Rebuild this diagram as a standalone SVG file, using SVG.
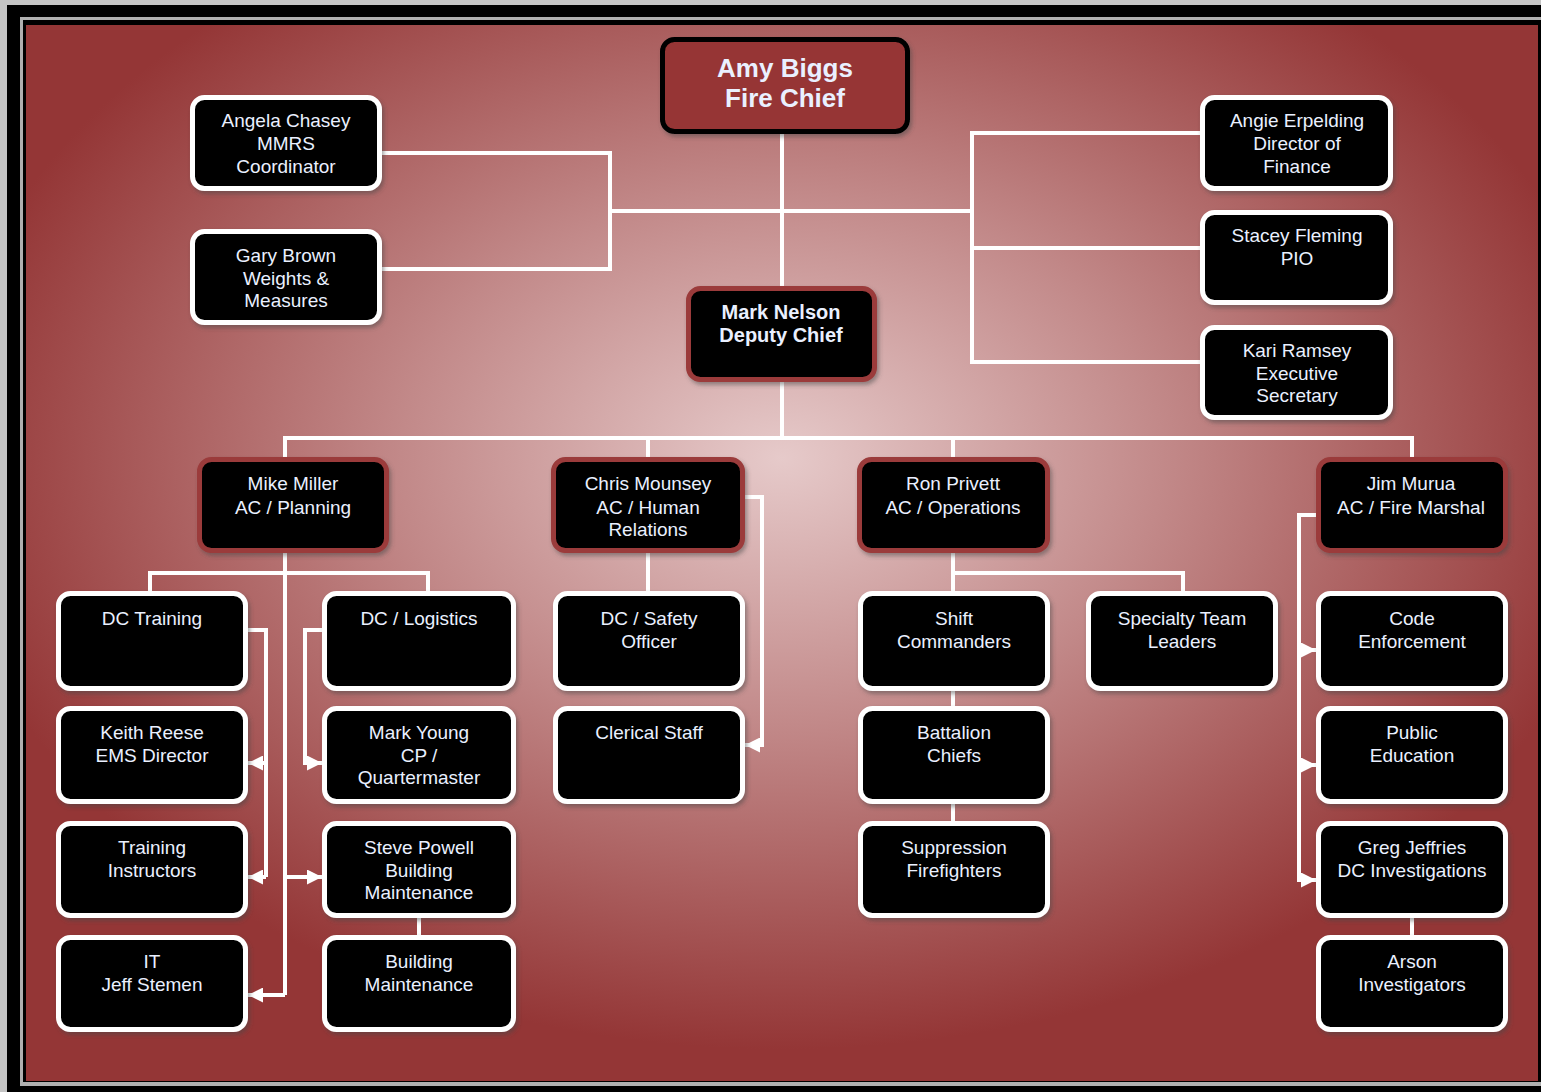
<svg xmlns="http://www.w3.org/2000/svg" width="1541" height="1092" viewBox="0 0 1541 1092">
<defs>
  <radialGradient id="bg" cx="0.5" cy="0.41" r="0.56">
    <stop offset="0" stop-color="#e6caca"/>
    <stop offset="0.45" stop-color="#c28989"/>
    <stop offset="1" stop-color="#943636"/>
  </radialGradient>
  <filter id="sh" x="-10%" y="-10%" width="125%" height="130%">
    <feDropShadow dx="2" dy="3" stdDeviation="2" flood-color="#444" flood-opacity="0.5"/>
  </filter>
  <marker id="arr" viewBox="0 0 10 10" refX="10" refY="5" markerWidth="15" markerHeight="15" markerUnits="userSpaceOnUse" orient="auto">
    <path d="M0,0 L10,5 L0,10 z" fill="#fff"/>
  </marker>
  <style>
    .box{fill:#000;stroke:#fff;stroke-width:5;filter:url(#sh)}
    .rbox{fill:#000;stroke:#9b3a3a;stroke-width:5;filter:url(#sh)}
    .chief{fill:#963434;stroke:#000;stroke-width:5;filter:url(#sh)}
    text{font-family:"Liberation Sans",Arial,sans-serif;font-size:19px;fill:#eaf0ff;text-anchor:middle}
    .b{font-weight:bold}
    .c{fill:none;stroke:#fff;stroke-width:4}
  </style>
</defs>
<rect x="0" y="0" width="1541" height="1092" fill="#c4c4c4"/>
<rect x="7" y="5" width="1534" height="1087" fill="#000"/>
<rect x="20" y="17" width="1521" height="1069" fill="#b0b0b0"/>
<rect x="23" y="20" width="1518" height="1062" fill="#000"/>
<rect x="26" y="25" width="1512" height="1056" fill="url(#bg)"/>

<g id="connectors">
  <path class="c" d="M782,134 V286"/>
  <path class="c" d="M610,211 H972"/>
  <path class="c" d="M382,153 H610 V269 H382"/>
  <path class="c" d="M1200,133 H972 V362 H1200 M972,248 H1200"/>
  <path class="c" d="M782,382 V438"/>
  <path class="c" d="M285,457 V438 H1412 V457 M648,438 V457 M953,438 V457"/>
  <path class="c" d="M285,553 V995"/>
  <path class="c" d="M150,591 V573 H428 V591"/>
  <path class="c" d="M248,630 H266 V877" />
  <path class="c" d="M266,877 H248" marker-end="url(#arr)"/>
  <path class="c" d="M266,763 H248" marker-end="url(#arr)"/>
  <path class="c" d="M322,630 H305 V763 H322" marker-end="url(#arr)"/>
  <path class="c" d="M285,877 H322" marker-end="url(#arr)"/>
  <path class="c" d="M285,995 H248" marker-end="url(#arr)"/>
  <path class="c" d="M419,918 V935"/>
  <path class="c" d="M648,553 V591"/>
  <path class="c" d="M745,497 H762 V745 H745" marker-end="url(#arr)"/>
  <path class="c" d="M953,553 V591 M953,573 H1183 V591"/>
  <path class="c" d="M953,691 V706 M953,804 V821"/>
  <path class="c" d="M1316,515 H1299 V880 H1316" marker-end="url(#arr)"/>
  <path class="c" d="M1299,650 H1316" marker-end="url(#arr)"/>
  <path class="c" d="M1299,765 H1316" marker-end="url(#arr)"/>
  <path class="c" d="M1412,918 V935"/>
</g>

<g id="amy-biggs"><rect class="chief" x="662.5" y="39.5" width="245" height="92" rx="12"/>
  <text class="b" x="785" y="77" style="font-size:26px">Amy Biggs</text><text class="b" x="785" y="107" style="font-size:26px">Fire Chief</text></g>
<g id="angela-chasey"><rect class="box" x="192.5" y="97.5" width="187" height="91" rx="12"/>
  <text x="286" y="127">Angela Chasey</text><text x="286" y="150">MMRS</text><text x="286" y="173">Coordinator</text></g>
<g id="gary-brown"><rect class="box" x="192.5" y="231.5" width="187" height="91" rx="12"/>
  <text x="286" y="262">Gary Brown</text><text x="286" y="285">Weights &amp;</text><text x="286" y="307">Measures</text></g>
<g id="angie-erpelding"><rect class="box" x="1202.5" y="97.5" width="188" height="91" rx="12"/>
  <text x="1297" y="127">Angie Erpelding</text><text x="1297" y="150">Director of</text><text x="1297" y="173">Finance</text></g>
<g id="stacey-fleming"><rect class="box" x="1202.5" y="212.5" width="188" height="90" rx="12"/>
  <text x="1297" y="242">Stacey Fleming</text><text x="1297" y="265">PIO</text></g>
<g id="kari-ramsey"><rect class="box" x="1202.5" y="327.5" width="188" height="90" rx="12"/>
  <text x="1297" y="357">Kari Ramsey</text><text x="1297" y="380">Executive</text><text x="1297" y="402">Secretary</text></g>
<g id="mark-nelson"><rect class="rbox" x="688.5" y="288.5" width="186" height="91" rx="12"/>
  <text class="b" x="781" y="319" style="font-size:20px">Mark Nelson</text><text class="b" x="781" y="342" style="font-size:20px">Deputy Chief</text></g>

<g id="mike-miller"><rect class="rbox" x="199.5" y="459.5" width="187" height="91" rx="12"/>
  <text x="293" y="490">Mike Miller</text><text x="293" y="514">AC / Planning</text></g>
<g id="chris-mounsey"><rect class="rbox" x="553.5" y="459.5" width="189" height="91" rx="12"/>
  <text x="648" y="490">Chris Mounsey</text><text x="648" y="514">AC / Human</text><text x="648" y="536">Relations</text></g>
<g id="ron-privett"><rect class="rbox" x="859.5" y="459.5" width="188" height="91" rx="12"/>
  <text x="953" y="490">Ron Privett</text><text x="953" y="514">AC / Operations</text></g>
<g id="jim-murua"><rect class="rbox" x="1318.5" y="459.5" width="187" height="91" rx="12"/>
  <text x="1411" y="490">Jim Murua</text><text x="1411" y="514">AC / Fire Marshal</text></g>

<g id="dc-training"><rect class="box" x="58.5" y="593.5" width="187" height="95" rx="12"/>
  <text x="152" y="625">DC Training</text></g>
<g id="keith-reese"><rect class="box" x="58.5" y="708.5" width="187" height="93" rx="12"/>
  <text x="152" y="739">Keith Reese</text><text x="152" y="762">EMS Director</text></g>
<g id="training-instructors"><rect class="box" x="58.5" y="823.5" width="187" height="92" rx="12"/>
  <text x="152" y="854">Training</text><text x="152" y="877">Instructors</text></g>
<g id="it-jeff-stemen"><rect class="box" x="58.5" y="937.5" width="187" height="92" rx="12"/>
  <text x="152" y="968">IT</text><text x="152" y="991">Jeff Stemen</text></g>

<g id="dc-logistics"><rect class="box" x="324.5" y="593.5" width="189" height="95" rx="12"/>
  <text x="419" y="625">DC / Logistics</text></g>
<g id="mark-young"><rect class="box" x="324.5" y="708.5" width="189" height="93" rx="12"/>
  <text x="419" y="739">Mark Young</text><text x="419" y="762">CP /</text><text x="419" y="784">Quartermaster</text></g>
<g id="steve-powell"><rect class="box" x="324.5" y="823.5" width="189" height="92" rx="12"/>
  <text x="419" y="854">Steve Powell</text><text x="419" y="877">Building</text><text x="419" y="899">Maintenance</text></g>
<g id="building-maintenance"><rect class="box" x="324.5" y="937.5" width="189" height="92" rx="12"/>
  <text x="419" y="968">Building</text><text x="419" y="991">Maintenance</text></g>

<g id="dc-safety-officer"><rect class="box" x="555.5" y="593.5" width="187" height="95" rx="12"/>
  <text x="649" y="625">DC / Safety</text><text x="649" y="648">Officer</text></g>
<g id="clerical-staff"><rect class="box" x="555.5" y="708.5" width="187" height="93" rx="12"/>
  <text x="649" y="739">Clerical Staff</text></g>

<g id="shift-commanders"><rect class="box" x="860.5" y="593.5" width="187" height="95" rx="12"/>
  <text x="954" y="625">Shift</text><text x="954" y="648">Commanders</text></g>
<g id="battalion-chiefs"><rect class="box" x="860.5" y="708.5" width="187" height="93" rx="12"/>
  <text x="954" y="739">Battalion</text><text x="954" y="762">Chiefs</text></g>
<g id="suppression-firefighters"><rect class="box" x="860.5" y="823.5" width="187" height="92" rx="12"/>
  <text x="954" y="854">Suppression</text><text x="954" y="877">Firefighters</text></g>

<g id="specialty-team-leaders"><rect class="box" x="1088.5" y="593.5" width="187" height="95" rx="12"/>
  <text x="1182" y="625">Specialty Team</text><text x="1182" y="648">Leaders</text></g>

<g id="code-enforcement"><rect class="box" x="1318.5" y="593.5" width="187" height="95" rx="12"/>
  <text x="1412" y="625">Code</text><text x="1412" y="648">Enforcement</text></g>
<g id="public-education"><rect class="box" x="1318.5" y="708.5" width="187" height="93" rx="12"/>
  <text x="1412" y="739">Public</text><text x="1412" y="762">Education</text></g>
<g id="greg-jeffries"><rect class="box" x="1318.5" y="823.5" width="187" height="92" rx="12"/>
  <text x="1412" y="854">Greg Jeffries</text><text x="1412" y="877">DC Investigations</text></g>
<g id="arson-investigators"><rect class="box" x="1318.5" y="937.5" width="187" height="92" rx="12"/>
  <text x="1412" y="968">Arson</text><text x="1412" y="991">Investigators</text></g>
</svg>
